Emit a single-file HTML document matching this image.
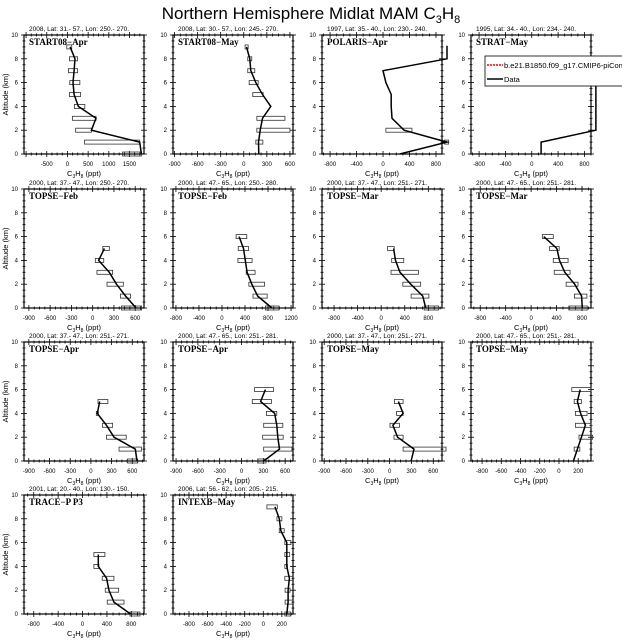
<!DOCTYPE html>
<html><head><meta charset="utf-8"><style>
body{margin:0;background:#fff;}
svg{display:block;font-family:"Liberation Sans",sans-serif;}
</style></head><body>
<svg id="chart" width="622" height="641" viewBox="0 0 622 641" xmlns="http://www.w3.org/2000/svg">
<text x="311" y="19" text-anchor="middle" font-size="17">Northern Hemisphere Midlat MAM C<tspan font-size="11" dy="4">3</tspan><tspan dy="-4">H</tspan><tspan font-size="11" dy="4">8</tspan></text>
<g id="panels"></g>
<g>
<rect x="485" y="56" width="140" height="30" fill="#fff" stroke="#000" stroke-width="0.8"/>
<line x1="487" y1="65" x2="503" y2="65" stroke="#e00" stroke-width="1.5" stroke-dasharray="2,1"/>
<text x="504" y="68" font-size="7.5">b.e21.B1850.f09_g17.CMIP6-piControl</text>
<line x1="487" y1="79" x2="503" y2="79" stroke="#000" stroke-width="1.5"/>
<text x="504" y="82" font-size="7.5">Data</text>
</g>
</svg>
<script>
const NS="http://www.w3.org/2000/svg";
const panelNames=["START08−Apr","START08−May","POLARIS−Apr","STRAT−May","TOPSE−Feb","TOPSE−Feb","TOPSE−Mar","TOPSE−Mar","TOPSE−Apr","TOPSE−Apr","TOPSE−May","TOPSE−May","TRACE−P P3","INTEXB−May"];
const panelHeaders=["2008, Lat: 31.- 57., Lon: 250.- 270.","2008, Lat: 30.- 57., Lon: 245.- 270.","1997, Lat: 35.- 40., Lon: 230.- 240.","1995, Lat: 34.- 40., Lon: 234.- 240.","2000, Lat: 37.- 47., Lon: 250.- 270.","2000, Lat: 47.- 65., Lon: 250.- 280.","2000, Lat: 37.- 47., Lon: 251.- 271.","2000, Lat: 47.- 65., Lon: 251.- 281.","2000, Lat: 37.- 47., Lon: 251.- 271.","2000, Lat: 47.- 65., Lon: 251.- 281.","2000, Lat: 37.- 47., Lon: 251.- 271.","2000, Lat: 47.- 65., Lon: 251.- 281.","2001, Lat: 20.- 40., Lon: 130.- 150.","2006, Lat: 56.- 62., Lon: 205.- 215."];
const xDomains=[[-1050,1850],[-920,640],[-922,891],[-923,900],[-969,724],[-851,1234],[-1004,1032],[-945,941],[-970,770],[-942,708],[-930,720],[-915,333],[-960,1008],[-972,320]];
const xTicks=[[-500,0,500,1000,1500],[-900,-600,-300,0,300,600],[-800,-400,0,400,800],[-800,-400,0,400,800],[-900,-600,-300,0,300,600],[-800,-400,0,400,800,1200],[-800,-400,0,400,800],[-800,-400,0,400,800],[-900,-600,-300,0,300,600],[-900,-600,-300,0,300,600],[-900,-600,-300,0,300,600],[-800,-600,-400,-200,0,200],[-800,-400,0,400,800],[-800,-600,-400,-200,0,200]];
const yTicks=[0,2,4,6,8,10];
const lineAlt=[[9,8,7,6,5,4,3,2,1,0],[9,8,7,6,5,4,3,2,1,0],[9.1,8,7,6,5,4,3,2,1,0],[7.1,2,1,0],[5,4,3,2,1,0],[6,5,4,3,2,1,0],[5,4,3,2,1,0],[6,5,4,3,2,1,0],[5,4,3,2,1,0],[6,5,4,3,2,1,0],[5,4,3,2,1,0],[6,5,4,3,2,1,0],[5,4,3,2,1,0],[9,8,7,6,5,4,3,2,1,0]];
const lineVal=[[63,183,160,135,160,262,690,580,1746,1786],[35,78,91,157,244,352,244,213,191,196],[967,967,0,43,124,124,135,319,967,254],[975,975,142,142],[166,83,235,336,465,612],[297,374,405,436,518,621,867],[211,243,319,502,707,756],[197,405,446,529,685,794,804],[128,93,226,335,644,669],[328,263,457,485,499,522,305],[120,185,45,110,335,295],[221,192,225,275,233,192,150],[258,258,395,433,515,789],[126,172,189,253,253,253,281,267,267,253]];
const boxAlt=[[9,8,7,6,5,4,3,2,1,0],[9,8,7,6,5,3,2,1],[2,1],[],[5,4,3,2,1,0],[6,5,4,3,2,1,0],[5,4,3,2,1,0],[6,5,4,3,2,1,0],[5,4,3,2,1,0],[6,5,4,3,2,1,0],[5,4,3,2,1],[6,5,4,3,2,1],[5,4,3,2,1,0],[9,8,7,6,5,4,3,2,1,0]];
const boxMin=[[-16,48,24,56,48,167,119,198,413,1333],[17,52,52,70,117,170,170,157],[43,930],[],[143,37,60,202,391,405],[246,282,277,421,467,539,754],[108,178,167,367,508,729],[176,291,348,363,550,680,592],[103,79,167,226,408,531],[180,148,342,305,291,305,222],[65,95,5,60,185],[133,158,171,171,208,158],[186,186,323,373,405,778],[39,147,172,232,232,232,232,235,235,232]];
const boxMax=[[103,246,246,300,317,420,690,580,1746,1786],[57,104,143,187,252,535,600,248],[437,990],[],[235,156,281,432,534,690],[431,462,523,575,739,785,990],[221,383,632,670,810,972],[348,441,581,612,737,877,882],[246,108,315,512,733,679],[439,411,485,568,573,693,337],[185,185,135,185,775],[333,233,292,333,350,217],[367,268,515,592,680,942],[151,200,225,298,284,260,323,288,323,295]];
const colLeft=[24,173,322,471], rowTop=[35,189,342,495], PW=120, PH=119;

const root=document.getElementById('panels');
function mk(tag,attrs,parent){const e=document.createElementNS(NS,tag);for(const k in attrs)e.setAttribute(k,attrs[k]);(parent||root).appendChild(e);return e;}

panelNames.forEach((name,i)=>{
  const L=colLeft[i%4], T=rowTop[Math.floor(i/4)];
  const [d0,d1]=xDomains[i];
  const sx=v=>L+(v-d0)/(d1-d0)*PW;
  const sy=a=>T+PH-a/10*PH;
  const g=mk('g',{});
  
  
  const hd=mk('text',{x:L+5,y:T-4,'font-size':6.5},g);
  
  
  hd.textContent=panelHeaders[i];
  const fr=mk('rect',{x:L,y:T,width:PW,height:PH,fill:'none',stroke:'#000','stroke-width':1.2},g);
  
  
  // y ticks
  for(let a=0;a<=10;a+=0.5){
    const y=sy(a), maj=(a%2===0), len=maj?3:1.5;
    mk('line',{x1:L-len,y1:y,x2:L+len,y2:y,stroke:'#000','stroke-width':0.8},g);
    mk('line',{x1:L+PW-len,y1:y,x2:L+PW+len,y2:y,stroke:'#000','stroke-width':0.8},g);
  }
  yTicks.forEach(a=>{
    const t=mk('text',{x:L-6,y:sy(a)+2,'font-size':6,'text-anchor':'end'},g);
    
    
    t.textContent=a;
  });
  // x ticks
  const xt=xTicks[i], step=xt[1]-xt[0];
  for(let v=xt[0]-step;v<=xt[xt.length-1]+step;v+=step/4){
    if(v<d0||v>d1)continue;
    const x=sx(v), maj=Math.abs(((v-xt[0])/step)%1)<1e-6, len=maj?3:1.5;
    mk('line',{x1:x,y1:T+PH-len,x2:x,y2:T+PH+len,stroke:'#000','stroke-width':0.8},g);
    mk('line',{x1:x,y1:T-len,x2:x,y2:T+len,stroke:'#000','stroke-width':0.8},g);
  }
  xt.forEach(v=>{
    const t=mk('text',{x:sx(v),y:T+PH+12,'font-size':6,'text-anchor':'middle'},g);
    
    
    t.textContent=v;
  });
  const xl=mk('text',{x:L+PW/2,y:T+PH+22,'font-size':7.5,'text-anchor':'middle'},g);
  
  
  xl.innerHTML='C<tspan font-size="5" dy="2">3</tspan><tspan dy="-2">H</tspan><tspan font-size="5" dy="2">8</tspan><tspan dy="-2"> (ppt)</tspan>';
  if(i%4===0){
    const yl=mk('text',{x:0,y:0,'font-size':7.5,'text-anchor':'middle',transform:`translate(${L-16},${T+PH/2}) rotate(-90)`},g);
    
    
    yl.textContent='Altitude (km)';
  }
  const lb=mk('text',{x:L+5,y:T+10,'font-size':9,'font-family':'Liberation Serif, serif','font-weight':'bold'},g);
  
  
  lb.textContent=name;
  // boxes
  boxAlt[i].forEach((a,k)=>{
    const x0=sx(boxMin[i][k]), x1=sx(boxMax[i][k]);
    const r=mk('rect',{x:x0,y:sy(a)-2,width:Math.max(1,x1-x0),height:4,fill:'none',stroke:'#333','stroke-width':0.8},g);
    
    
  });
  const pts=lineAlt[i].map((a,k)=>sx(lineVal[i][k]).toFixed(1)+','+sy(a).toFixed(1)).join(' ');
  const pl=mk('polyline',{points:pts,fill:'none',stroke:'#000','stroke-width':1.5},g);
  
  
});
</script>
</body></html>
